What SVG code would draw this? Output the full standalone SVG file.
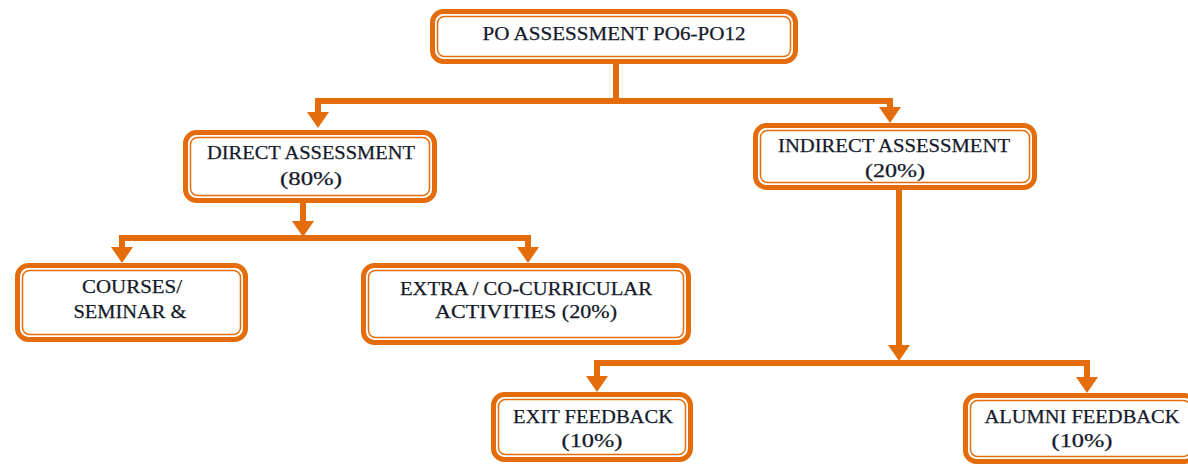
<svg xmlns="http://www.w3.org/2000/svg" width="1188" height="464" viewBox="0 0 1188 464">
<style>
.o{fill:#fff;stroke:#E46C0A;stroke-width:5}
.i{fill:none;stroke:#E46C0A;stroke-width:1.5}
.t{font-family:"Liberation Serif","DejaVu Serif",serif;font-size:19px;fill:#141a2a;stroke:#141a2a;stroke-width:0.25;text-anchor:middle}
.c{fill:none;stroke:#E46C0A;stroke-width:6;stroke-linejoin:miter}
</style>
<defs>
<marker id="ah" viewBox="0 0 16 22" refX="0" refY="11" markerWidth="16" markerHeight="22" markerUnits="userSpaceOnUse" orient="auto">
<path d="M0,0 L16,11 L0,22 z" fill="#E46C0A"/>
</marker>
</defs>
<rect width="1188" height="464" fill="#fff"/>
<g id="connectors">
<path class="c" d="M616,64 V101 H318 V112" marker-end="url(#ah)"/>
<path class="c" d="M613,101 H890 V107" marker-end="url(#ah)"/>
<path class="c" d="M303,203 V221" marker-end="url(#ah)"/>
<path class="c" d="M303,238 H122 V247" marker-end="url(#ah)"/>
<path class="c" d="M300,238 H528 V247" marker-end="url(#ah)"/>
<path class="c" d="M899,190 V345" marker-end="url(#ah)"/>
<path class="c" d="M899,363 H597 V376" marker-end="url(#ah)"/>
<path class="c" d="M896,363 H1087 V377" marker-end="url(#ah)"/>
</g>
<g id="po">
<rect class="o" x="432.5" y="11.5" width="363" height="50" rx="11"/>
<rect class="i" x="437.5" y="16.5" width="353" height="40" rx="7"/>
<text class="t" x="614" y="40" textLength="263" lengthAdjust="spacingAndGlyphs">PO ASSESSMENT PO6-PO12</text>
</g>
<g id="direct">
<rect class="o" x="185.5" y="132.5" width="249" height="68" rx="11"/>
<rect class="i" x="190.5" y="137.5" width="239" height="58" rx="7"/>
<text class="t" x="311" y="159" textLength="208" lengthAdjust="spacingAndGlyphs">DIRECT ASSESSMENT</text>
<text class="t" x="311" y="185" textLength="62" lengthAdjust="spacingAndGlyphs">(80%)</text>
</g>
<g id="indirect">
<rect class="o" x="755.5" y="125.5" width="279" height="62" rx="11"/>
<rect class="i" x="760.5" y="130.5" width="269" height="52" rx="7"/>
<text class="t" x="894" y="152" textLength="232" lengthAdjust="spacingAndGlyphs">INDIRECT ASSESSMENT</text>
<text class="t" x="895" y="177" textLength="60" lengthAdjust="spacingAndGlyphs">(20%)</text>
</g>
<g id="courses">
<rect class="o" x="17.5" y="265.5" width="228" height="74" rx="11"/>
<rect class="i" x="22.5" y="270.5" width="218" height="64" rx="7"/>
<text class="t" x="132" y="293" textLength="100" lengthAdjust="spacingAndGlyphs">COURSES/</text>
<text class="t" x="130" y="318" textLength="113" lengthAdjust="spacingAndGlyphs">SEMINAR &amp;</text>
</g>
<g id="extra">
<rect class="o" x="363.5" y="265.5" width="325" height="77" rx="11"/>
<rect class="i" x="368.5" y="270.5" width="315" height="67" rx="7"/>
<text class="t" x="526" y="295" textLength="252" lengthAdjust="spacingAndGlyphs">EXTRA / CO-CURRICULAR</text>
<text class="t" x="526" y="318" textLength="182" lengthAdjust="spacingAndGlyphs">ACTIVITIES (20%)</text>
</g>
<g id="exit">
<rect class="o" x="493.5" y="394.5" width="197" height="65" rx="11"/>
<rect class="i" x="498.5" y="399.5" width="187" height="55" rx="7"/>
<text class="t" x="593" y="423" textLength="160" lengthAdjust="spacingAndGlyphs">EXIT FEEDBACK</text>
<text class="t" x="592" y="447" textLength="61" lengthAdjust="spacingAndGlyphs">(10%)</text>
</g>
<g id="alumni">
<rect class="o" x="965.5" y="395.5" width="230" height="66" rx="11"/>
<rect class="i" x="970.5" y="400.5" width="220" height="56" rx="7"/>
<text class="t" x="1082" y="423" textLength="195" lengthAdjust="spacingAndGlyphs">ALUMNI FEEDBACK</text>
<text class="t" x="1082" y="447" textLength="61" lengthAdjust="spacingAndGlyphs">(10%)</text>
</g>
</svg>
